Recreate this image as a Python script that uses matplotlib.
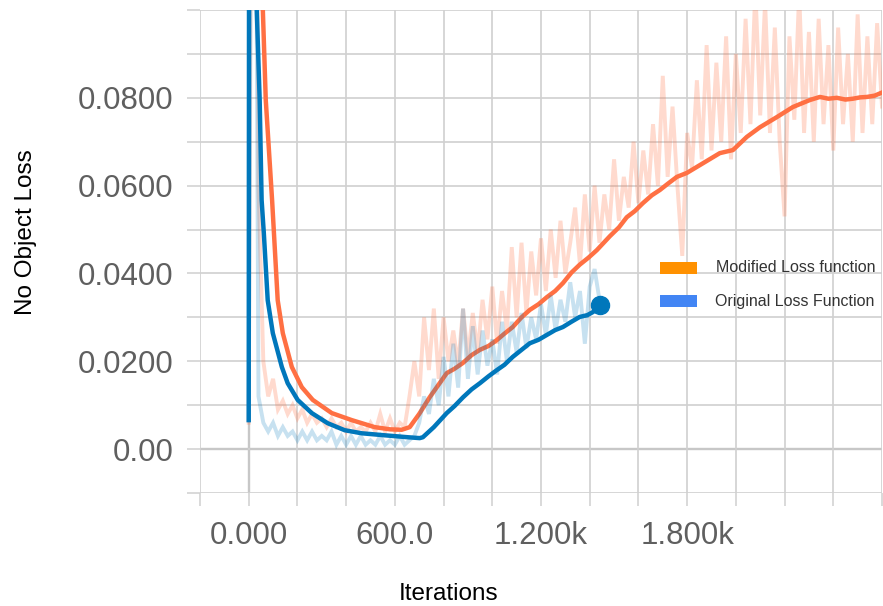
import numpy as np
import matplotlib
matplotlib.use('Agg')
import matplotlib.pyplot as plt
from matplotlib.patches import Rectangle

# smoothed curves
orange_smooth_x = [4, 58, 70, 96, 119, 140, 177, 218, 263, 341, 423, 517, 580, 628, 661, 700, 743,
                   813, 845, 879, 915, 949, 985, 1018, 1050, 1084, 1120, 1154, 1190, 1224, 1258,
                   1290, 1325, 1359, 1395, 1429, 1483, 1520, 1552, 1585, 1618, 1655, 1688, 1720,
                   1758, 1799, 1865, 1934, 1988, 2045, 2099, 2168, 2234, 2304, 2345, 2380, 2415,
                   2450, 2481, 2510, 2538, 2570, 2600]
orange_smooth_y = [0.40, 0.100, 0.0795, 0.0567, 0.0339, 0.0264, 0.0187, 0.0141, 0.0112, 0.0082,
                   0.0066, 0.0050, 0.0045, 0.0044, 0.0050, 0.0080, 0.0118, 0.0173, 0.0183, 0.0196,
                   0.0214, 0.0226, 0.0235, 0.0248, 0.0263, 0.0278, 0.0300, 0.0317, 0.0330, 0.0346,
                   0.0360, 0.0378, 0.0402, 0.0420, 0.0436, 0.0453, 0.0485, 0.0505, 0.0528, 0.0542,
                   0.0560, 0.0578, 0.0590, 0.0604, 0.0620, 0.0629, 0.0651, 0.0674, 0.0681, 0.0711,
                   0.0733, 0.0756, 0.0779, 0.0795, 0.0802, 0.0798, 0.0800, 0.0796, 0.0798, 0.0801,
                   0.0802, 0.0805, 0.0812]

blue_smooth_x = [0, 5, 33, 45, 53, 62, 78, 99, 136, 160, 201, 259, 324, 394, 464, 546, 653, 702,
                 715, 760, 813, 845, 880, 915, 949, 985, 1019, 1050, 1084, 1120, 1154, 1190, 1224,
                 1258, 1290, 1325, 1359, 1390, 1413, 1442]
blue_smooth_y = [0.0066, 0.40, 0.100, 0.0795, 0.0567, 0.0492, 0.0339, 0.0264, 0.0187, 0.0150,
                 0.0112, 0.0082, 0.0059, 0.0043, 0.0036, 0.0032, 0.0027, 0.0025, 0.0027, 0.0050,
                 0.0082, 0.0098, 0.0118, 0.0136, 0.0150, 0.0166, 0.0180, 0.0192, 0.0210, 0.0226,
                 0.0241, 0.0249, 0.0260, 0.0271, 0.0278, 0.0290, 0.0301, 0.0305, 0.0312, 0.0328]

# raw (unsmoothed) values, one every 20 iterations
orange_raw_y = [0.006, 0.30, 0.060, 0.020, 0.012, 0.016, 0.009, 0.011, 0.008, 0.010,
                0.007, 0.009, 0.006, 0.008, 0.006, 0.007, 0.005, 0.007, 0.005, 0.006,
                0.004, 0.006, 0.004, 0.005, 0.004, 0.006, 0.004, 0.008, 0.004, 0.007,
                0.004, 0.006, 0.005, 0.012, 0.020, 0.012, 0.030, 0.018, 0.032, 0.016,
                0.030, 0.020, 0.027, 0.019, 0.032, 0.021, 0.031, 0.022, 0.034, 0.025,
                0.037, 0.024, 0.036, 0.027, 0.046, 0.030, 0.047, 0.031, 0.045, 0.035,
                0.048, 0.036, 0.050, 0.039, 0.052, 0.040, 0.047, 0.055, 0.042, 0.058,
                0.045, 0.060, 0.047, 0.058, 0.050, 0.066, 0.052, 0.062, 0.055, 0.070,
                0.056, 0.068, 0.058, 0.074, 0.060, 0.085, 0.062, 0.078, 0.060, 0.044,
                0.072, 0.064, 0.084, 0.066, 0.092, 0.068, 0.088, 0.070, 0.094, 0.066,
                0.090, 0.072, 0.098, 0.074, 0.105, 0.076, 0.102, 0.072, 0.096, 0.070,
                0.053, 0.094, 0.075, 0.104, 0.072, 0.095, 0.070, 0.098, 0.074, 0.092,
                0.068, 0.096, 0.074, 0.090, 0.070, 0.099, 0.072, 0.094, 0.074, 0.097,
                0.078]
orange_raw_x = list(range(0, 20 * len(orange_raw_y), 20))

blue_raw_y = [0.0066, 0.25, 0.012, 0.006, 0.004, 0.006, 0.003, 0.005, 0.003, 0.004,
              0.002, 0.004, 0.002, 0.004, 0.002, 0.003, 0.002, 0.004, 0.001, 0.003,
              0.001, 0.003, 0.001, 0.003, 0.001, 0.002, 0.001, 0.003, 0.001, 0.002,
              0.001, 0.003, 0.001, 0.002, 0.003, 0.006, 0.012, 0.008, 0.016, 0.010,
              0.021, 0.012, 0.024, 0.014, 0.032, 0.016, 0.028, 0.017, 0.027, 0.019,
              0.025, 0.017, 0.029, 0.020, 0.029, 0.022, 0.031, 0.023, 0.030, 0.025,
              0.033, 0.026, 0.035, 0.027, 0.034, 0.029, 0.038, 0.030, 0.036, 0.024,
              0.037, 0.041, 0.034]
blue_raw_x = list(range(0, 20 * len(blue_raw_y), 20))

xtick_vals = [0, 600, 1200, 1800]
xtick_labels = ['0.000', '600.0', '1.200k', '1.800k']
ytick_vals = [0.0, 0.02, 0.04, 0.06, 0.08]
ytick_labels = ['0.00', '0.0200', '0.0400', '0.0600', '0.0800']

series_names = ['Modified Loss function', 'Original Loss Function']
legend_colors = ['#ff9100', '#4285f4']

ORANGE = '#ff7043'
BLUE = '#0077bb'
W, H = 883, 606


def fx(px):
    return px / W


def fy(py):
    return 1 - py / H


plt.rcParams['font.family'] = ['Liberation Sans', 'DejaVu Sans']

fig = plt.figure(figsize=(8.83, 6.06), dpi=100)
ax = fig.add_axes([fx(200), fy(493), fx(882) - fx(200), fy(10) - fy(493)])

ax.set_xlim(-200, 2600)
ax.set_ylim(-0.01, 0.1)

# grid every 200 steps / 0.01, labels only on a few of them
grid_x = np.arange(-200, 2601, 200)
grid_y = np.round(np.arange(-0.01, 0.1001, 0.01), 4)
ylabel_map = {round(v, 4): lab for v, lab in zip(ytick_vals, ytick_labels)}
xlabel_map = dict(zip(xtick_vals, xtick_labels))
ax.set_xticks(grid_x)
ax.set_yticks(grid_y)
ax.set_xticklabels([xlabel_map.get(int(v), '') for v in grid_x])
ax.set_yticklabels([ylabel_map.get(round(v, 4), '') for v in grid_y])

ax.grid(True, color='#d0d0d0', linewidth=1.2, zorder=0)
ax.axhline(0, color='#9e9e9e', linewidth=1.6, zorder=1)
ax.axvline(0, color='#9e9e9e', linewidth=1.6, zorder=1)
for s in ax.spines.values():
    s.set_visible(False)
ax.tick_params(axis='both', length=9.5, width=1.1, color='#d0d0d0',
               labelsize=22.5, labelcolor='#5f5f5f')
ax.tick_params(axis='x', pad=11)
ax.tick_params(axis='y', pad=9.5)

# raw series first, then smoothed lines on top
ax.plot(orange_raw_x, orange_raw_y, color=ORANGE, alpha=0.26, linewidth=2.8,
        solid_joinstyle='miter', zorder=2)
ax.plot(orange_smooth_x, orange_smooth_y, color=ORANGE, linewidth=3.2, zorder=3)
ax.plot(blue_raw_x, blue_raw_y, color=BLUE, alpha=0.22, linewidth=2.8,
        solid_joinstyle='miter', zorder=4)
ax.plot(blue_smooth_x, blue_smooth_y, color=BLUE, linewidth=3.2, zorder=5)
ax.plot(blue_smooth_x[-1], blue_smooth_y[-1], 'o', color=BLUE, markersize=13, zorder=6)

# legend drawn by hand like the screenshot
for i, (name, col) in enumerate(zip(series_names, legend_colors)):
    top = 262 + i * 33
    fig.patches.append(Rectangle((fx(660), fy(top + 12)), fx(697) - fx(660), fy(top) - fy(top + 12),
                                 transform=fig.transFigure, facecolor=col, edgecolor='none'))
    fig.text(fx(716 - i), fy(top + 6), name, fontsize=11.5, color='#333333', va='center', ha='left')

fig.text(fx(449), fy(600), 'Iterations', fontsize=17.5, color='black', ha='center', va='baseline')
fig.text(fx(26), fy(232), 'No Object Loss', fontsize=17.5, color='black', rotation=90,
         ha='center', va='center')

fig.savefig('out.png', dpi=100)
